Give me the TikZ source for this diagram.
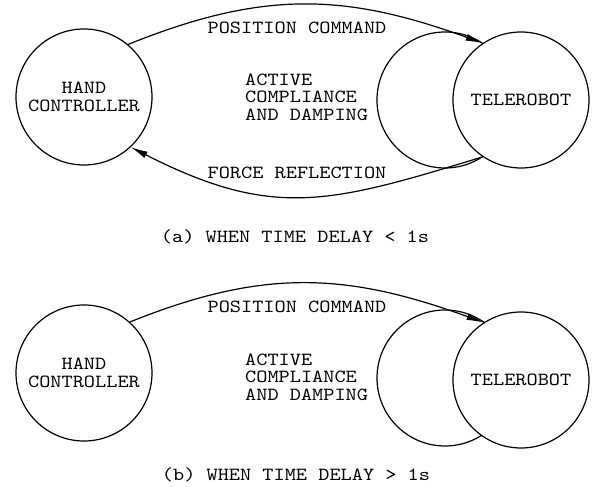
\documentclass[tikz,border=0pt]{standalone}
\usepackage{fontspec}
\setmainfont{lmmono10-regular.otf}[FakeStretch=1.15]
\usetikzlibrary{arrows.meta}
\tikzset{
  unit/.style={draw, circle, line width=1.2pt, minimum size=136pt, inner sep=0pt, align=center, fill=white},
  flow/.style={line width=1.2pt, -{Latex[length=17pt,width=7pt]}},
  txt/.style={align=left, inner sep=0pt}
}
\begin{document}
\begin{tikzpicture}[x=1pt, y=1pt, font=\fontsize{18.5}{17.5}\selectfont]
\useasboundingbox (0,0) rectangle (592,487);
% (a) time delay < 1s
\node[unit] (compA) at (445,387) {};
\node[unit] (robotA) at (521,387) {TELEROBOT};
\node[unit] (handA) at (84,390) {HAND\\CONTROLLER};
\draw[flow] (handA.50) to[out=22, in=160, looseness=1.05] (robotA.124);
\draw[flow] (robotA.236) to[out=197, in=-27, looseness=1.16] (handA.313);
\node (posA) at (297,459) {POSITION COMMAND};
\node[txt, anchor=west] (compTxtA) at (245,390) {ACTIVE\\COMPLIANCE\\AND DAMPING};
\node (forceA) at (297,314) {FORCE REFLECTION};
\node (capA) at (295,250) {(a) WHEN TIME DELAY < 1s};
% (b) time delay > 1s
\node[unit] (compB) at (445,109) {};
\node[unit] (robotB) at (521,107) {TELEROBOT};
\node[unit] (handB) at (84,114) {HAND\\CONTROLLER};
\draw[flow] (handB.48) to[out=22, in=160, looseness=1.05] (robotB.123);
\node (posB) at (297,180) {POSITION COMMAND};
\node[txt, anchor=west] (compTxtB) at (245,110) {ACTIVE\\COMPLIANCE\\AND DAMPING};
\node (capB) at (296,12) {(b) WHEN TIME DELAY > 1s};
\end{tikzpicture}
\end{document}
